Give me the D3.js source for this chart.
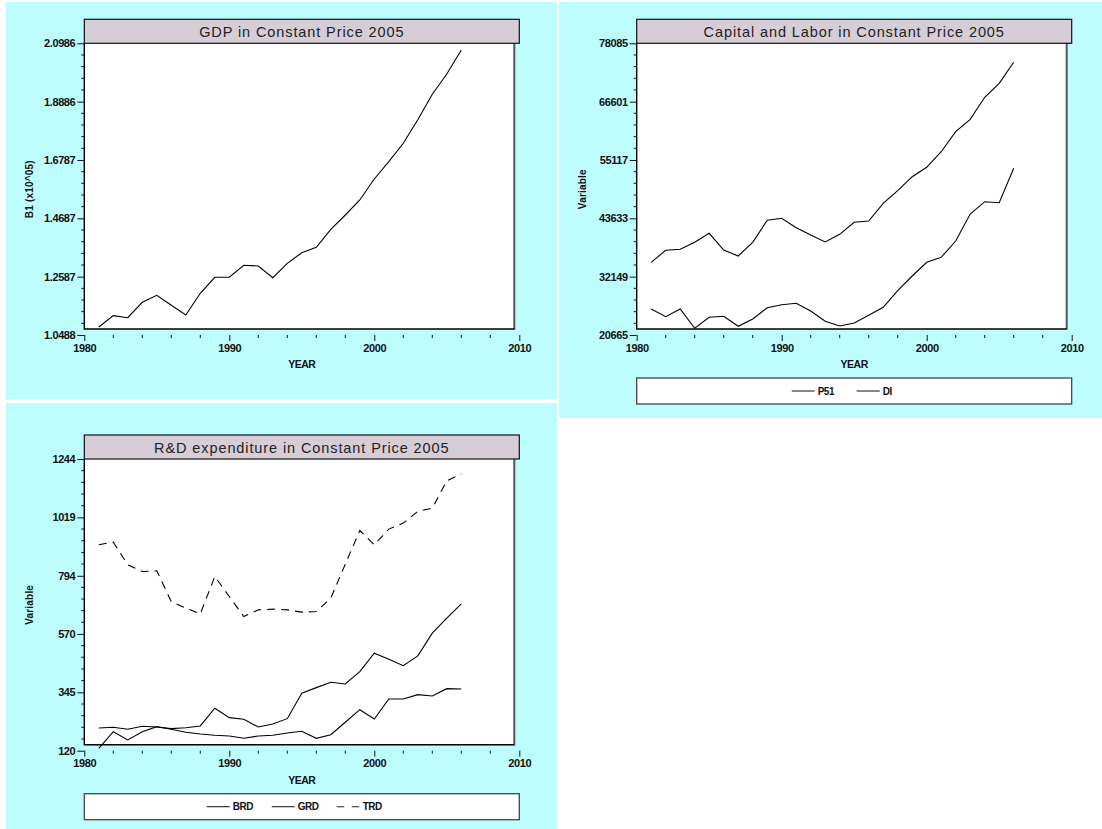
<!DOCTYPE html>
<html>
<head>
<meta charset="utf-8">
<script src="https://cdn.jsdelivr.net/npm/d3@7"></script>
<style>
  html, body { margin: 0; padding: 0; background: #ffffff; }
  svg { display: block; }
  .tick text, .lab {
    font-family: "Liberation Sans Narrow", "Liberation Sans", Arial, sans-serif;
    font-weight: bold;
    fill: #111;
  }
  .ptitle {
    font-family: "Liberation Sans", Arial, sans-serif;
    font-size: 14.5px;
    letter-spacing: 0.9px;
    fill: #222;
  }
</style>
</head>
<body>
<svg id="chart" width="1102" height="829"></svg>
<script>
// ---- data -------------------------------------------------------------
const years = [1981, 1982, 1983, 1984, 1985, 1986, 1987, 1988, 1989, 1990,
               1991, 1992, 1993, 1994, 1995, 1996, 1997, 1998, 1999, 2000,
               2001, 2002, 2003, 2004, 2005, 2006];

// GDP, units of 10^5
const gdp = [1.0776, 1.1183, 1.1111, 1.1665, 1.1917, 1.1557, 1.1208, 1.1989, 1.2565, 1.2565,
             1.2997, 1.2971, 1.2550, 1.3068, 1.3450, 1.3644, 1.4292, 1.4807, 1.5347, 1.6102,
             1.6725, 1.7387, 1.8237, 1.9151, 1.9881, 2.0745];

const p51 = [34975, 37337, 37534, 38912, 40684, 37396, 36215, 38912, 43243, 43636,
             41786, 40349, 38971, 40487, 42849, 43105, 46589, 49069, 51825, 53675,
             56746, 60683, 63123, 67454, 70210, 74343];

const di = [25783, 24267, 25783, 21984, 24149, 24346, 22378, 23814, 26039, 26629,
            26905, 25389, 23362, 22437, 23027, 24543, 26117, 29385, 32279, 34975,
            35960, 39168, 44483, 46904, 46707, 53478];

const brd = [207.6, 210.3, 202.5, 214.1, 211.4, 204.9, 208.7, 215.3, 283.5, 247.3,
             241.1, 211.4, 223.0, 243.4, 341.4, 363.0, 383.8, 377.3, 424.7, 495.7,
             472.5, 447.8, 485.3, 572.8, 630.7, 685.8];

const grd = [129.3, 193.3, 161.3, 193.3, 212.6, 202.5, 191.0, 184.4, 179.4, 176.7,
             167.8, 176.7, 179.4, 188.3, 194.8, 167.8, 181.7, 229.5, 278.1, 242.3,
             319.4, 319.4, 336.0, 331.0, 359.1, 358.0];

const trd = [913.4, 923.8, 836.2, 810.4, 813.1, 694.7, 669.2, 647.3, 791.1, 714.0,
             636.8, 662.7, 665.4, 662.7, 653.8, 656.1, 707.8, 839.0, 968.5, 913.4,
             973.9, 997.1, 1041.8, 1054.9, 1160.2, 1186.0];

// ---- axis ticks ---------------------------------------------------------
const xTicks = [1980, 1990, 2000, 2010];
const xMinor = [1982, 1984, 1986, 1988, 1992, 1994, 1996, 1998, 2002, 2004, 2006, 2008];
const gdpTicks = [1.0488, 1.2587, 1.4687, 1.6787, 1.8886, 2.0986];
const capTicks = [20665, 32149, 43633, 55117, 66601, 78085];
const rdTicks = [120, 345, 570, 794, 1019, 1244];

// ---- drawing ------------------------------------------------------------
const svg = d3.select("#chart");
const CYAN = "#befdff";
const TITLE_FILL = "#d6cdd6";
const AXIS_W = 435;       // 1980..2010 span in px
const AXIS_H = 291.7;     // y axis span in px

function panel(o) {
  const g = svg.append("g");
  g.append("rect")
    .attr("x", o.bg[0]).attr("y", o.bg[1])
    .attr("width", o.bg[2]).attr("height", o.bg[3])
    .attr("fill", CYAN);

  const x = d3.scaleLinear().domain([1980, 2010]).range([o.left, o.left + AXIS_W]);
  const y = d3.scaleLinear()
    .domain([o.ticks[0], o.ticks[o.ticks.length - 1]])
    .range([o.axisY, o.axisY - AXIS_H]);

  const top = o.axisY - AXIS_H;
  const frameBottom = o.axisY - 6;
  const frameRight = o.left + AXIS_W - 5;

  // plot area
  g.append("rect")
    .attr("x", o.left).attr("y", top)
    .attr("width", frameRight - o.left).attr("height", frameBottom - top)
    .attr("fill", "#ffffff");
  g.append("line")
    .attr("x1", frameRight).attr("x2", frameRight)
    .attr("y1", top).attr("y2", frameBottom + 0.7)
    .attr("stroke", "#555").attr("stroke-width", 2);
  g.append("path")
    .attr("d", `M${frameRight},${frameBottom}H${o.left}V${top}`)
    .attr("fill", "none").attr("stroke", "#000").attr("stroke-width", 1.4);

  // title box
  g.append("rect")
    .attr("x", o.left).attr("y", top - 24)
    .attr("width", AXIS_W).attr("height", 24)
    .attr("fill", TITLE_FILL).attr("stroke", "#111").attr("stroke-width", 1.2);
  g.append("text")
    .attr("class", "ptitle")
    .attr("x", o.left + AXIS_W / 2).attr("y", top - 6)
    .attr("text-anchor", "middle")
    .text(o.title);

  // y axis
  const ya = g.append("g")
    .attr("transform", `translate(${o.left},0)`)
    .call(d3.axisLeft(y).tickValues(o.ticks).tickSize(7).tickPadding(2).tickFormat(o.fmt));
  ya.select(".domain").remove();
  ya.selectAll(".tick text").style("font-size", "11px").style("letter-spacing", "-0.4px");
  ya.selectAll(".tick line").attr("stroke", "#111");

  // minor y ticks: 4 between each pair of labelled ticks
  const minorY = [];
  for (let i = 0; i < o.ticks.length - 1; i++) {
    for (let k = 1; k < 5; k++) minorY.push(o.ticks[i] + (o.ticks[i + 1] - o.ticks[i]) * k / 5);
  }
  g.append("g").selectAll("line").data(minorY).join("line")
    .attr("x1", o.left - 3).attr("x2", o.left)
    .attr("y1", d => y(d)).attr("y2", d => y(d))
    .attr("stroke", "#111");

  // x axis
  const xa = g.append("g")
    .attr("transform", `translate(0,${o.axisY})`)
    .call(d3.axisBottom(x).tickValues(xTicks).tickSize(6).tickPadding(3).tickFormat(d3.format("d")));
  xa.select(".domain").remove();
  xa.selectAll(".tick text").style("font-size", "11px").style("letter-spacing", "-0.4px");
  xa.selectAll(".tick line").attr("stroke", "#111");
  g.append("g").selectAll("line").data(xMinor).join("line")
    .attr("x1", d => x(d)).attr("x2", d => x(d))
    .attr("y1", o.axisY).attr("y2", o.axisY + 3)
    .attr("stroke", "#111");

  // axis titles
  g.append("text").attr("class", "lab")
    .attr("x", o.left + AXIS_W / 2).attr("y", o.axisY + 33)
    .attr("text-anchor", "middle")
    .style("font-size", "10.5px").style("letter-spacing", "-0.5px")
    .text("YEAR");
  g.append("text").attr("class", "lab")
    .attr("transform", `translate(${o.left - 51},${(top + o.axisY) / 2}) rotate(-90)`)
    .attr("text-anchor", "middle")
    .style("font-size", "10px").style("letter-spacing", "0.2px")
    .text(o.yTitle);

  // series
  const line = d3.line().x((d, i) => x(years[i])).y(d => y(d));
  o.series.forEach(s => {
    g.append("path")
      .datum(s.values)
      .attr("d", line)
      .attr("fill", "none")
      .attr("stroke", "#000")
      .attr("stroke-width", 1.1)
      .attr("stroke-dasharray", s.dash || null);
  });

  // legend
  if (o.legend) {
    const ly = o.axisY + 43;
    g.append("rect")
      .attr("x", o.left).attr("y", ly)
      .attr("width", AXIS_W).attr("height", 26)
      .attr("fill", "#ffffff").attr("stroke", "#444").attr("stroke-width", 1.3);
    o.series.forEach((s, i) => {
      const lx = o.left + o.legend + 65 * i;
      g.append("line")
        .attr("x1", lx).attr("x2", lx + 23)
        .attr("y1", ly + 13).attr("y2", ly + 13)
        .attr("stroke", "#222").attr("stroke-width", 1.1)
        .attr("stroke-dasharray", s.dash ? "7.5,7.5" : null);
      g.append("text").attr("class", "lab")
        .attr("x", lx + 26).attr("y", ly + 16.5)
        .style("font-size", "10px").style("letter-spacing", "-0.5px")
        .text(s.name);
    });
  }
}

panel({
  bg: [6, 2, 551, 397.5],
  left: 84.3, axisY: 335,
  title: "GDP in Constant Price 2005",
  yTitle: "B1 (x10^05)",
  ticks: gdpTicks, fmt: d3.format(".4f"),
  series: [{ name: "B1", values: gdp }]
});

panel({
  bg: [559, 2, 543, 416],
  left: 636.7, axisY: 335,
  title: "Capital and Labor in Constant Price 2005",
  yTitle: "Variable",
  ticks: capTicks, fmt: d3.format("d"),
  legend: 155,
  series: [{ name: "P51", values: p51 }, { name: "DI", values: di }]
});

panel({
  bg: [6, 403, 551, 426],
  left: 84.3, axisY: 750.7,
  title: "R&D expenditure in Constant Price 2005",
  yTitle: "Variable",
  ticks: rdTicks, fmt: d3.format("d"),
  legend: 122.4,
  series: [{ name: "BRD", values: brd }, { name: "GRD", values: grd },
           { name: "TRD", values: trd, dash: "8,6" }]
});
</script>
</body>
</html>
